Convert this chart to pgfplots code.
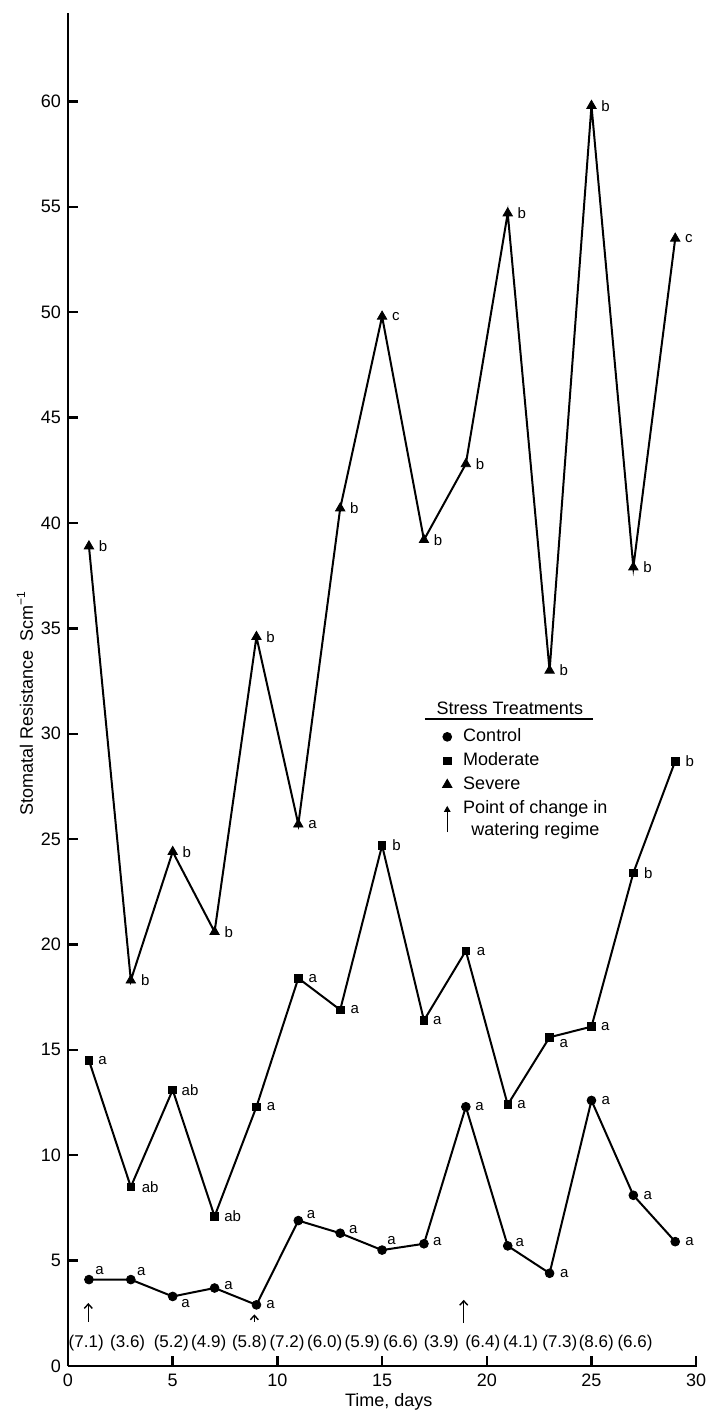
\documentclass[border=0pt]{standalone}
\usepackage{fontspec}
\setmainfont{Liberation Sans}
\usepackage{pgfplots}
\usepackage{pgfplotstable}
\pgfplotsset{compat=1.18}
\usetikzlibrary{arrows.meta,calc}

% Stomatal resistance by day; lab = significance letter, lx/ly = letter offset (pt)
\pgfplotstableread{
day val lab lx ly
1  4.1  a 3.0  4.5
3  4.1  a 3.0  4.0
5  3.3  a 4.2 -3.3
7  3.7  a 4.7  1.0
9  2.9  a 4.7  0
11 6.9  a 4.1  2.8
13 6.3  a 4.2  2.0
15 5.5  a 2.4  5.0
17 5.8  a 4.4  1.2
19 12.3 a 4.6  0
21 5.7  a 3.7  1.8
23 4.4  a 5.1 -0.3
25 12.6 a 4.9  0
27 8.1  a 4.9  0
29 5.9  a 4.9  0
}\control

\pgfplotstableread{
day val lab lx ly
1  14.5 a  4.5  0
3  8.5  ab 5.3  0
5  13.1 ab 4.3  0
7  7.1  ab 4.7  0
9  12.3 a  5.0  0
11 18.4 a  5.0  0
13 16.9 a  5.0  0
15 24.7 b  5.0  0
17 16.4 a  4.4  0
19 19.7 a  5.3 -0.5
21 12.4 a  4.6  0
23 15.6 a  4.8 -3.0
25 16.1 a  4.6  0
27 23.4 b  5.2  0
29 28.7 b  5.0  0
}\moderate

\pgfplotstableread{
day val lab lx ly
1  38.9 b 4.8 0
3  18.3 b 5.0 0
5  24.4 b 4.8 0
7  20.6 b 4.8 0
9  34.6 b 4.8 0
11 25.7 a 4.8 0
13 40.7 b 4.8 0
15 49.8 c 4.8 0
17 39.2 b 4.8 0
19 42.8 b 4.8 0
21 54.7 b 4.8 0
23 33.0 b 4.8 0
25 59.8 b 4.8 0
27 37.9 b 4.8 0
29 53.5 c 4.8 0
}\severe

% values printed in brackets along the bottom of the plot
\pgfplotstableread{
x y lab
0.87  1.1 (7.1)
2.85  1.1 (3.6)
4.93  1.1 (5.2)
6.72  1.1 (4.9)
8.67  1.1 (5.8)
10.46 1.1 (7.2)
12.26 1.1 (6.0)
14.05 1.1 (5.9)
15.88 1.1 (6.6)
17.83 1.1 (3.9)
19.81 1.1 (6.4)
21.61 1.1 (4.1)
23.49 1.1 (7.3)
25.23 1.1 (8.6)
27.08 1.1 (6.6)
}\brackets

\pgfplotsset{
  sig/.style={
    nodes near coords,
    point meta=explicit symbolic,
    visualization depends on={\thisrow{lx}\as\labx},
    visualization depends on={\thisrow{ly}\as\laby},
    every node near coord/.style={anchor=west, inner sep=0pt, black,
      font=\fontsize{7.5}{9}\selectfont, xshift=\labx pt, yshift=\laby pt},
  },
}

\begin{document}
\begin{tikzpicture}
\begin{axis}[
  name=ax,
  scale only axis,
  width=314.5pt, height=676.5pt,
  xmin=0, xmax=30.04, ymin=0, ymax=64.2,
  axis x line*=bottom, axis y line*=left,
  axis line style={line width=1.3pt},
  xtick={0,5,...,30}, ytick={0,5,...,60},
  tick align=inside,
  major tick length=4.75pt,
  every tick/.style={line width=1.2pt, black},
  /pgf/number format/assume math mode=true,
  tick label style={font=\fontsize{9}{10}\selectfont},
  xticklabel style={anchor=center, yshift=-7pt},
  every axis y label/.style={at={(axis description cs:-0.0684,0.49)}, rotate=90, anchor=center},
  every axis x label/.style={at={(axis description cs:0.51,-0.0266)}, anchor=center},
  label style={font=\fontsize{9}{10}\selectfont},
  ylabel={Stomatal Resistance\enspace Scm\textsuperscript{−1}},
  xlabel={Time, days},
  legend style={at={(axis cs:17.55,30.3)}, anchor=north west, draw=none, fill=none,
    inner sep=0pt, row sep=3pt, column sep=1.8pt,
    font=\fontsize{9}{11}\selectfont, cells={align=center},
    nodes={inner sep=0.5pt}},
  legend cell align=left,
  legend image code/.code={
    \path[draw=none, fill=none] (-0.2cm,-0.1cm) rectangle (0.2cm,0.1cm);
    \draw[#1, only marks] plot coordinates {(0cm,0cm)};
  },
]
\addplot[black, line width=1pt, mark=*, mark size=2.2pt,
  mark options={line width=0.4pt}, sig]
  table[x=day, y=val, meta=lab] {\control};
\addlegendentry{Control}
\addplot[black, line width=1pt, mark=square*, mark size=1.9pt,
  mark options={line width=0.4pt}, sig]
  table[x=day, y=val, meta=lab] {\moderate};
\addlegendentry{Moderate}
\addplot[black, line width=1pt, mark=triangle*, mark size=2.7pt,
  mark options={line width=0.4pt}, sig]
  table[x=day, y=val, meta=lab] {\severe};
\addlegendentry{Severe}
\addlegendimage{legend image code/.code={
    \path[draw=none, fill=none] (-0.2cm,-0.1cm) rectangle (0.2cm,0.1cm);
    \draw[black, line width=0.7pt, -{Triangle[length=3pt,width=3.2pt]}] (0cm,-0.22cm) -- (0cm,0.24cm);
  }}
\addlegendentry{Point of change in\\watering regime}

% days on which the watering regime was changed
\addplot[forget plot, black, line width=0.7pt,
  -{Straight Barb[length=2.2pt,width=4pt]},
  quiver={u=0, v=\thisrow{v}}]
  table {
x     y    v
0.97  2.09 0.90
8.90  2.10 0.35
18.90 2.04 1.10
};

\addplot[forget plot, draw=none, mark=none, nodes near coords,
  point meta=explicit symbolic,
  every node near coord/.style={anchor=center, inner sep=0pt, black,
    font=\fontsize{8.5}{10}\selectfont}]
  table[x=x, y=y, meta=lab] {\brackets};

\node[font=\fontsize{9}{11}\selectfont] at (axis cs:21.1,31.23) {Stress Treatments};
\draw[line width=1pt] (axis cs:17.04,30.71) -- (axis cs:25.07,30.71);
\end{axis}
\pgfresetboundingbox
\path ($(ax.south west)+(-34pt,-23.5pt)$) rectangle ($(ax.north east)+(6pt,6.5pt)$);
\end{tikzpicture}
\end{document}
